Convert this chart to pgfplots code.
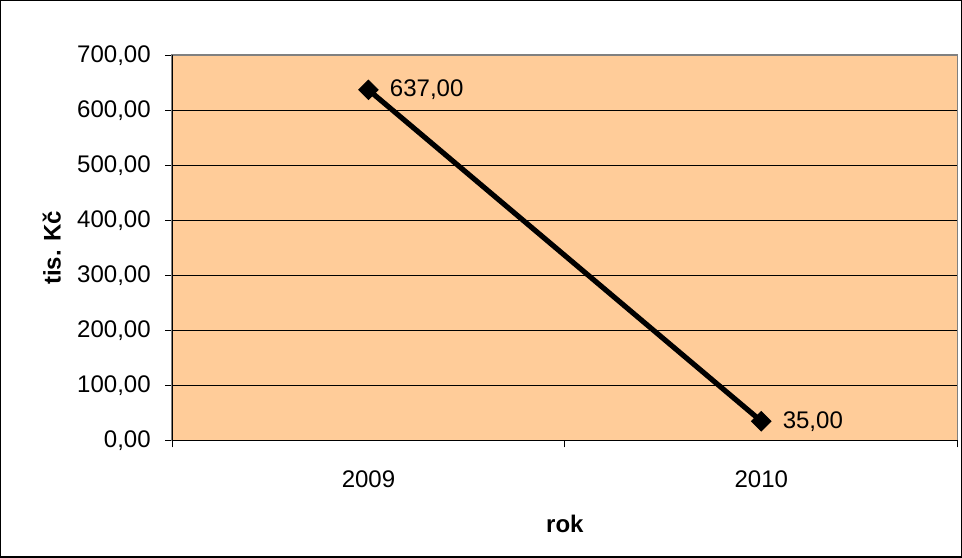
\documentclass[border=0pt]{standalone}
\usepackage{pgfplots}
\pgfplotsset{compat=1.18}
\usepackage{fontspec}
\setmainfont{Liberation Sans}
\definecolor{plotbg}{RGB}{255,204,153}
\begin{document}
\fontsize{12}{14}\selectfont
\begin{tikzpicture}
    \begin{axis}[
            name=ax,
            scale only axis,
            width=392.5pt,
            height=192.5pt,
            xmin=0, xmax=2,
            ymin=0, ymax=700,
            xtick={0.5,1.5},
            xticklabels={2009,2010},
            minor xtick={0,1,2},
            major x tick style={draw=none},
            minor x tick style={black, line width=0.5pt},
            ytick distance=100,
            y tick style={black, line width=0.5pt},
            tick align=outside,
            major tick length=3.5pt,
            minor tick length=3.5pt,
            xtick pos=bottom,
            ytick pos=left,
            ymajorgrids,
            grid style={black, line width=0.5pt},
            axis line style={draw=gray, line width=0.75pt},
            axis background/.style={fill=plotbg},
            /pgf/number format/.cd, fixed, fixed zerofill, precision=2, use comma, 1000 sep={}, assume math mode=true,
            /pgfplots/.cd,
            yticklabel style={xshift=-3pt},
            xticklabel style={yshift=-7.5pt},
            xlabel={\textbf{rok}},
            ylabel={\textbf{tis. Kč}},
            xlabel style={yshift=-5.5pt},
            ylabel style={yshift=0pt},
            nodes near coords,
            nodes near coords style={anchor=west, xshift=6.5pt, text=black},
        ]
        \addplot[black, line width=2.6pt, mark=square*, mark size=3.4pt,
            mark options={rotate=45, line width=0.5pt}] coordinates {
                (0.5,637)
                (1.5,35)
            };
    \end{axis}
    \draw[black, line width=0.5pt] (ax.north west) -- (ax.south west) -- (ax.south east);
    \draw[black, line width=0.75pt] ([xshift=-85.6pt,yshift=-58.2pt]ax.south west) rectangle ([xshift=1.8pt,yshift=27.2pt]ax.north east);
\end{tikzpicture}
\end{document}
